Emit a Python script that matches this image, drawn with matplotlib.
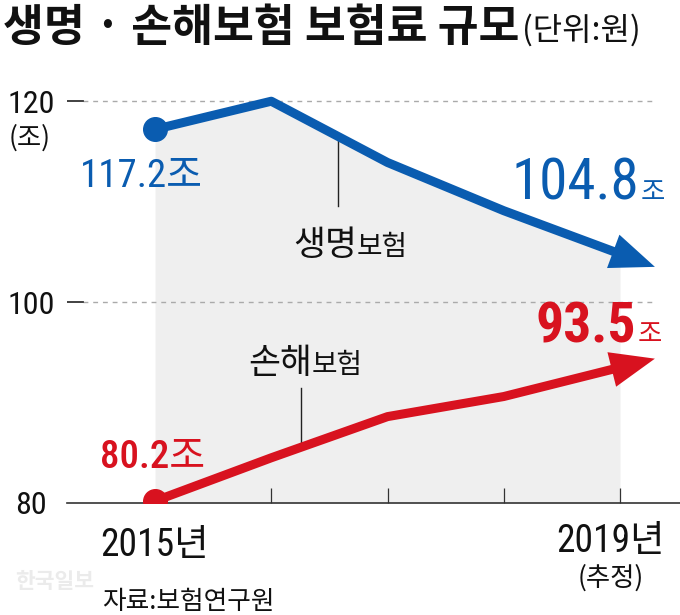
import matplotlib
matplotlib.use("Agg")
import matplotlib.pyplot as plt
import matplotlib.transforms as mtransforms

# data (조 원)
years = [2015, 2016, 2017, 2018, 2019]
life = [117.2, 120.0, 113.9, 109.1, 104.8]
nonlife = [80.2, 84.5, 88.6, 90.6, 93.5]
ytick_vals = [80, 100, 120]
grid_vals = [100, 120]
ytick_labels = ["80", "100", "120"]

BLUE = "#0a5cb0"
RED = "#d8121f"
NUM = ["Roboto Condensed", "Noto Sans CJK KR"]
KR = ["Noto Sans CJK KR", "DejaVu Sans"]

W, H = 680, 615
fig = plt.figure(figsize=(W / 100, H / 100), dpi=100)
ax = fig.add_axes([67 / W, 112 / H, 613 / W, 450 / H])
ax.set_xlim(2014.243, 2019.516)
ax.set_ylim(80, 124.8)
renderer = fig.canvas.get_renderer()


def fx(x):
    return x / W


def fy(y):
    return 1 - y / H


for s in ["top", "left", "right"]:
    ax.spines[s].set_visible(False)
ax.spines["bottom"].set_color("#333333")
ax.spines["bottom"].set_linewidth(1.2)
ax.set_xticks(years[1:])
ax.tick_params(axis="x", direction="in", length=11, width=0.9, color="#333333",
               labelbottom=False)
ax.set_yticks([])

# gray area under life line
ax.fill_between(years, life, 80, color="#efefef", lw=0, zorder=0)

# grid lines, short solid tick then dashes
blend = mtransforms.blended_transform_factory(ax.transAxes, ax.transData)
for v in grid_vals:
    ax.plot([0.026, 0.959], [v, v], transform=blend, color="#aaaaaa", lw=1,
            ls=(0, (3.5, 3.5)), zorder=1)
    ax.plot([0, 0.026], [v, v], transform=blend, color="#333333", lw=1.3, zorder=1)

# y labels
yblend = mtransforms.blended_transform_factory(fig.transFigure, ax.transData)
for v, lab in zip(ytick_vals, ytick_labels):
    ax.text(fx(31), v, lab, transform=yblend, ha="center", va="center_baseline",
            fontsize=23, family=NUM, color="#111111")
fig.text(fx(30), fy(138), "(조)", ha="center", va="center", fontsize=19,
         family=KR, color="#111111")


def series(vals, color):
    ax.plot(years, vals, color=color, lw=6.5, solid_capstyle="butt",
            solid_joinstyle="round", zorder=3)
    ax.plot(years[0], vals[0], "o", ms=17, color=color, zorder=4)
    tip_x = years[-1] + 0.3
    tip_y = vals[-1] + 0.3 * (vals[-1] - vals[-2])
    ax.annotate("", xy=(tip_x, tip_y), xytext=(years[-2], vals[-2]),
                arrowprops=dict(arrowstyle="-|>,head_length=0.8,head_width=0.32",
                                mutation_scale=40, lw=0, color=color,
                                shrinkA=0, shrinkB=0), zorder=4)


series(life, BLUE)
series(nonlife, RED)


def pair(x, y, big, small, size_big, size_small, color, fam_big=NUM,
         weight="normal", gap=1):
    t = fig.text(fx(x), fy(y), big, fontsize=size_big, color=color, family=fam_big,
                 weight=weight, ha="left", va="baseline")
    bb = t.get_window_extent(renderer)
    fig.text(bb.x1 / fig.bbox.width + gap / W, fy(y), small, fontsize=size_small,
             color=color, family=KR, ha="left", va="baseline")


# value labels
fig.text(fx(80), fy(187), "117.2조", fontsize=28, color=BLUE, family=NUM,
         ha="left", va="baseline")
pair(512, 200, "104.8", "조", 41, 19, BLUE)
fig.text(fx(100), fy(468), "80.2조", fontsize=28, color=RED, family=NUM,
         ha="left", va="baseline", weight="medium")
pair(536, 342, "93.5", "조", 40, 19, RED, weight="bold")

# series names with leader lines
pair(293, 255, "생명", "보험", 25, 20, "#111111", fam_big=KR, gap=0)
pair(248, 373, "손해", "보험", 25, 20, "#111111", fam_big=KR, gap=0)
ax.plot([2016.57, 2016.57], [109.6, 116.3], color="#222222", lw=1, zorder=2)
ax.plot([2016.26, 2016.26], [85.6, 91.4], color="#222222", lw=1, zorder=2)

# x labels
fig.text(fx(155), fy(545), "2015년", fontsize=27, family=NUM, color="#111111",
         ha="center", va="center")
fig.text(fx(611), fy(542), "2019년", fontsize=27, family=NUM, color="#111111",
         ha="center", va="center")
fig.text(fx(611), fy(578), "(추정)", fontsize=19, family=KR, color="#111111",
         ha="center", va="center")

# title
t = fig.text(fx(3), fy(28), "생명 · 손해보험 보험료 규모", fontsize=32,
             weight="bold", family=KR, color="#111111", ha="left", va="center")
bb = t.get_window_extent(renderer)
fig.text(bb.x1 / fig.bbox.width + 3 / W, fy(30), "(단위:원)", fontsize=23,
         family=KR, color="#111111", ha="left", va="center")

# footer
fig.text(fx(15), fy(582), "한국일보", fontsize=15.5, weight="bold", family=KR,
         color="#ebebeb", ha="left", va="center")
fig.text(fx(102), fy(602), "자료:보험연구원", fontsize=18.5, family=KR,
         color="#111111", ha="left", va="center")

fig.savefig("out.png", dpi=100)
